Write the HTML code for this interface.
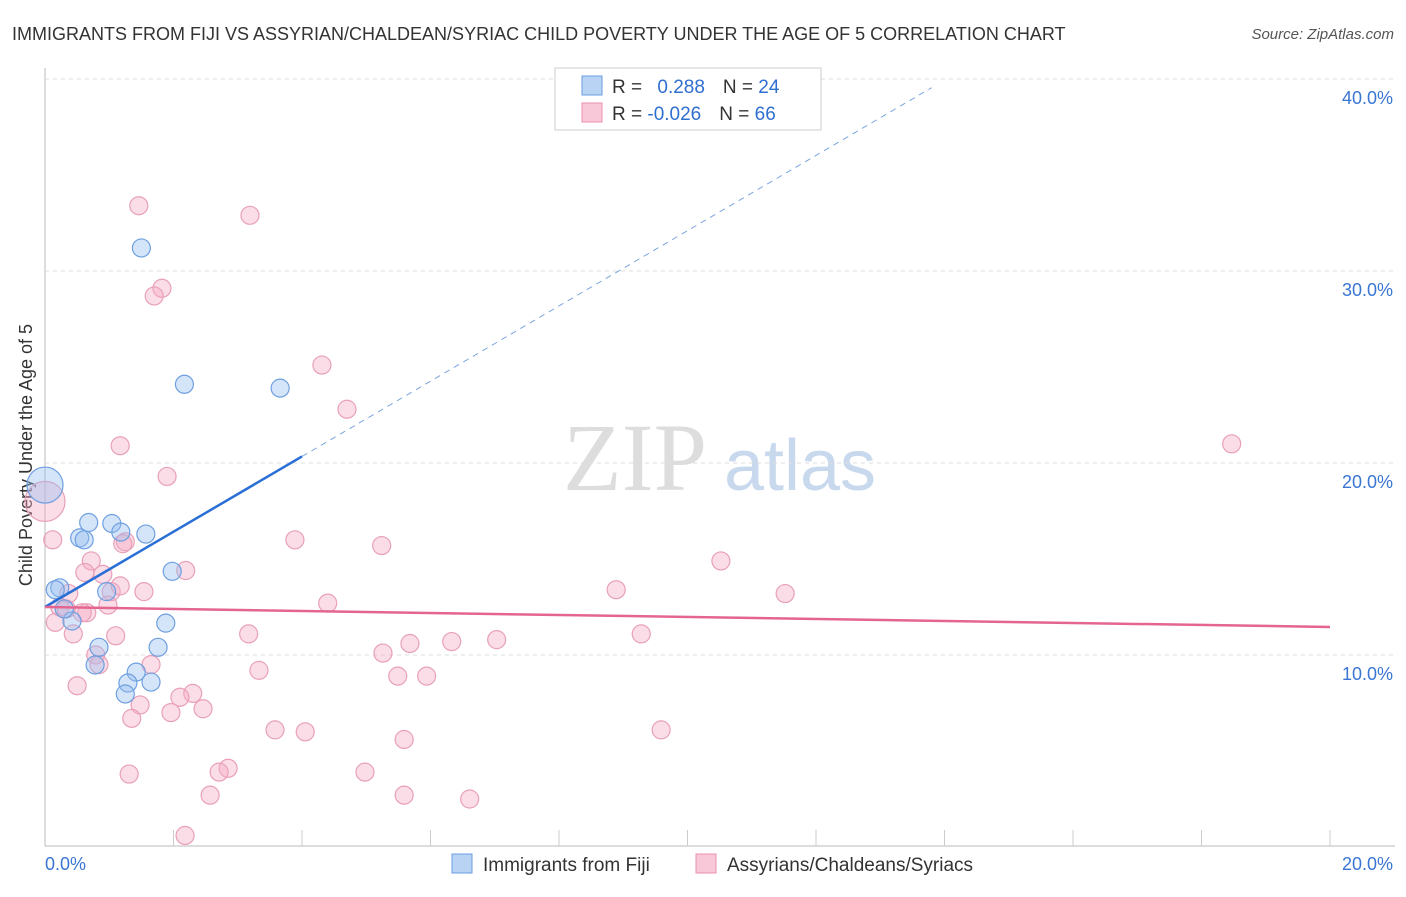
<!DOCTYPE html>
<html><head><meta charset="utf-8"><style>
body{margin:0;background:#fff;font-family:"Liberation Sans",sans-serif}
</style></head><body>
<svg id="c" width="1406" height="892" xmlns="http://www.w3.org/2000/svg" style="font-family:'Liberation Sans',sans-serif">
<text x="12" y="40" font-size="18" fill="#333">IMMIGRANTS FROM FIJI VS ASSYRIAN/CHALDEAN/SYRIAC CHILD POVERTY UNDER THE AGE OF 5 CORRELATION CHART</text>
<text x="1394" y="39" font-size="15" fill="#555" font-style="italic" text-anchor="end">Source: ZipAtlas.com</text>
<text x="32" y="455" font-size="18" fill="#333" text-anchor="middle" transform="rotate(-90 32 455)">Child Poverty Under the Age of 5</text>
<g><text x="635" y="490" font-size="96" fill="#ddd" text-anchor="middle" font-family="Liberation Serif">ZIP</text><text x="800" y="490" font-size="72" fill="#c8d9ee" text-anchor="middle">atlas</text></g>
<g id="grid"></g><g id="pts"></g><g id="lines"></g>
<g>
<rect x="555" y="68" width="266" height="62" fill="#fff" stroke="#ccc"/>
<rect x="582" y="76" width="20" height="19" fill="#b8d3f3" stroke="#6a9de0"/>
<rect x="582" y="103" width="20" height="19" fill="#f9c8d8" stroke="#e890ae"/>
<text x="612" y="93" font-size="19" fill="#333">R = <tspan fill="#2f6fd0" dx="10">0.288</tspan><tspan dx="18" fill="#333">N = </tspan><tspan fill="#2f6fd0">24</tspan></text>
<text x="612" y="120" font-size="19" fill="#333">R = <tspan fill="#2f6fd0">-0.026</tspan><tspan dx="18" fill="#333">N = </tspan><tspan fill="#2f6fd0">66</tspan></text>
</g>
<g>
<rect x="452" y="854" width="20" height="19" fill="#b8d3f3" stroke="#6a9de0"/>
<text x="483" y="871" font-size="19" fill="#333">Immigrants from Fiji</text>
<rect x="696" y="854" width="20" height="19" fill="#f9c8d8" stroke="#e890ae"/>
<text x="727" y="871" font-size="19" fill="#333">Assyrians/Chaldeans/Syriacs</text>
</g>
</svg>
<script>
const xTicks=[0,20];
const yTicks=[10,20,30,40];
const fijiX=[1.5,2.17,3.66,0,0.68,0.54,0.61,1.04,1.18,1.57,1.98,0.23,0.16,0.96,1.88,0.42,0.3,0.84,1.76,0.78,1.42,1.29,1.65,1.25];
const fijiY=[31.2,24.1,23.9,18.85,16.9,16.1,16.0,16.85,16.4,16.3,14.36,13.5,13.4,13.3,11.66,11.77,12.4,10.4,10.4,9.48,9.11,8.54,8.59,7.97];
const asyX=[1.46,3.19,1.82,1.7,4.31,4.7,1.17,18.47,1.9,0,0.12,3.89,5.24,1.25,1.21,0.72,10.52,0.62,0.9,2.19,1.54,1.03,8.89,11.52,0.37,4.4,0.23,0.98,0.65,0.16,0.58,0.44,1.1,3.17,9.28,7.03,6.33,5.68,5.26,0.79,0.84,1.65,3.33,5.49,5.94,0.5,2.3,2.1,1.48,2.46,1.96,1.35,3.58,4.05,9.59,5.59,1.31,2.85,2.71,4.98,2.57,5.59,6.61,2.18,0.33,1.17];
const asyY=[33.4,32.9,29.1,28.7,25.1,22.8,20.9,21.0,19.3,18.0,16.0,16.0,15.7,15.9,15.8,14.9,14.9,14.3,14.2,14.4,13.3,13.3,13.4,13.2,13.2,12.7,12.5,12.6,12.2,11.7,12.2,11.1,11.0,11.1,11.1,10.8,10.7,10.6,10.1,10.0,9.5,9.5,9.2,8.9,8.9,8.4,8.0,7.8,7.4,7.2,7.0,6.7,6.1,6.0,6.1,5.6,3.8,4.1,3.9,3.9,2.7,2.7,2.5,0.6,12.4,13.6];
const fijiTrend=[12.5,51.7];const asyTrend=[12.5,11.46];
const NS="http://www.w3.org/2000/svg";
const X=v=>45+v/20*1285, Y=v=>847-v*19.2;
function mk(t,a,p){const e=document.createElementNS(NS,t);for(const k in a)e.setAttribute(k,a[k]);p.appendChild(e);return e;}
const g=document.getElementById('grid');
mk('line',{x1:45,y1:68,x2:45,y2:846,stroke:'#bbb'},g);
mk('line',{x1:45,y1:846,x2:1395,y2:846,stroke:'#bbb'},g);
for(let i=1;i<=10;i++){mk('line',{x1:45+i*128.5,y1:830,x2:45+i*128.5,y2:846,stroke:'#ccc'},g);}
yTicks.forEach(v=>{mk('line',{x1:45,y1:Y(v),x2:1395,y2:Y(v),stroke:'#ddd','stroke-dasharray':'4,4'},g);
const t=mk('text',{x:1393,y:Y(v)+25,'font-size':18,fill:'#3a75d4','text-anchor':'end'},g);t.textContent=v.toFixed(1)+'%';

});
xTicks.forEach((v,i)=>{const t=mk('text',{x:i?1393:45,y:870,'font-size':18,fill:'#3a75d4','text-anchor':i?'end':'start'},g);t.textContent=v.toFixed(1)+'%';

});
const p=document.getElementById('pts');
asyX.forEach((x,i)=>{const c=mk('circle',{cx:X(x),cy:Y(asyY[i]),r:i==9?20:9,fill:'rgba(245,170,195,0.4)',stroke:'#e8a0b8','stroke-width':1.2},p);

});
fijiX.forEach((x,i)=>{const c=mk('circle',{cx:X(x),cy:Y(fijiY[i]),r:i==3?18:9,fill:'rgba(150,190,240,0.4)',stroke:'#6e9fe0','stroke-width':1.2},p);

});
const l=document.getElementById('lines');
const fy=x=>fijiTrend[0]+(fijiTrend[1]-fijiTrend[0])*x/20;
let e=mk('line',{x1:X(0),y1:Y(fy(0)),x2:X(4),y2:Y(fy(4)),stroke:'#2a6fd6','stroke-width':2.5},l);


e=mk('line',{x1:X(4),y1:Y(fy(4)),x2:X(13.8),y2:Y(fy(13.8)),stroke:'#7aa5e0','stroke-width':1,'stroke-dasharray':'6,5'},l);


e=mk('line',{x1:X(0),y1:Y(asyTrend[0]),x2:X(20),y2:Y(asyTrend[1]),stroke:'#e46690','stroke-width':2.5},l);


</script>
</body></html>
